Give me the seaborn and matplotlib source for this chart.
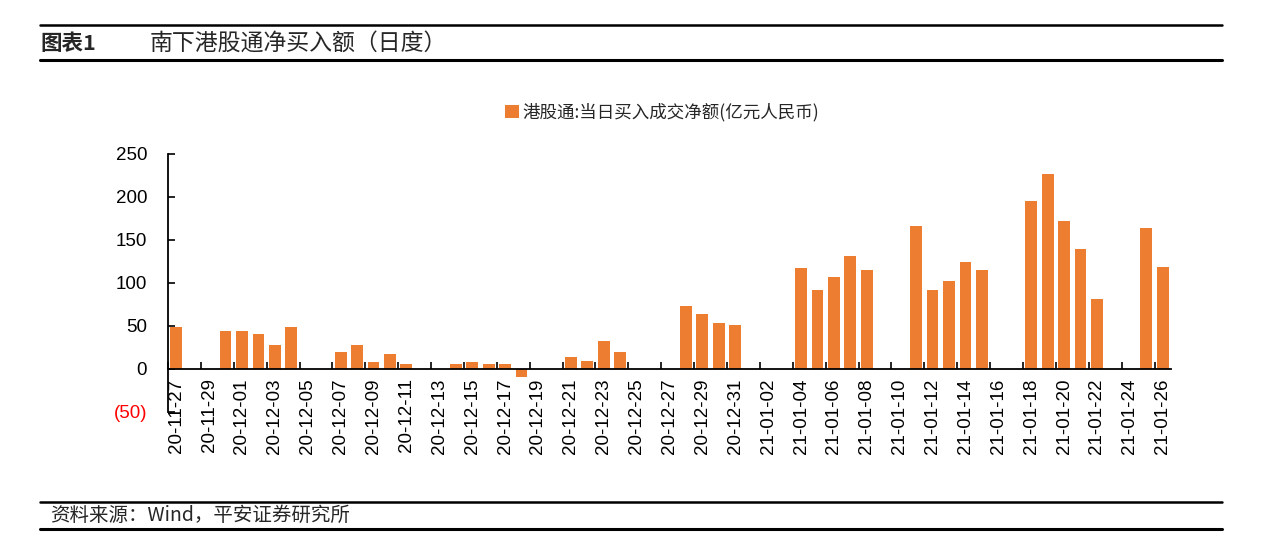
import matplotlib
matplotlib.use("Agg")
import matplotlib.pyplot as plt
import seaborn as sns
import pandas as pd
import numpy as np
from matplotlib.lines import Line2D
from matplotlib.patches import Patch

# ---- data (亿元人民币) ----
trade_dates = [
    "2020-11-27", "2020-11-30", "2020-12-01", "2020-12-02", "2020-12-03", "2020-12-04",
    "2020-12-07", "2020-12-08", "2020-12-09", "2020-12-10", "2020-12-11",
    "2020-12-14", "2020-12-15", "2020-12-16", "2020-12-17", "2020-12-18",
    "2020-12-21", "2020-12-22", "2020-12-23", "2020-12-24",
    "2020-12-28", "2020-12-29", "2020-12-30", "2020-12-31",
    "2021-01-04", "2021-01-05", "2021-01-06", "2021-01-07", "2021-01-08",
    "2021-01-11", "2021-01-12", "2021-01-13", "2021-01-14", "2021-01-15",
    "2021-01-18", "2021-01-19", "2021-01-20", "2021-01-21", "2021-01-22",
    "2021-01-25", "2021-01-26",
]
net_buy = [
    48.1, 44.3, 44.3, 40.4, 27.6, 48.1,
    19.4, 27.6, 7.4, 17.5, 5.0,
    5.0, 7.4, 5.0, 5.0, -10.0,
    13.2, 9.3, 31.8, 19.4,
    73.4, 63.3, 52.8, 50.5,
    116.9, 91.6, 106.4, 131.2, 114.5,
    166.1, 91.6, 102.1, 124.6, 114.5,
    194.9, 226.3, 172.4, 139.4, 81.5,
    164.2, 118.8,
]
start_date = "2020-11-27"
end_date = "2021-01-26"
series_name = "港股通:当日买入成交净额(亿元人民币)"
y_ticks = [-50, 0, 50, 100, 150, 200, 250]
y_labels = ["(50)", "0", "50", "100", "150", "200", "250"]

# ---- build calendar-day frame ----
all_days = pd.date_range(start_date, end_date, freq="D")
day_labels = [d.strftime("%y-%m-%d") for d in all_days]
df = pd.DataFrame({"date": pd.to_datetime(trade_dates), "value": net_buy})
df["label"] = df["date"].dt.strftime("%y-%m-%d")

sns.set_theme(style="white")
plt.rcParams["font.family"] = ["Liberation Sans", "Noto Sans CJK SC", "DejaVu Sans"]

bar_color = "#ED7D31"
fig = plt.figure(figsize=(12.67, 5.5), dpi=100)
ax = fig.add_axes([0.1326, 0.2516, 0.9242 - 0.1326, 0.72 - 0.2516])

sns.barplot(data=df, x="label", y="value", order=day_labels, color=bar_color,
            saturation=1, width=0.72, errorbar=None, linewidth=0, ax=ax)

ax.set_xlim(-0.5, len(day_labels) - 0.5)
ax.set_ylim(-50, 250)
ax.set_xlabel("")
ax.set_ylabel("")

# spines
for s in ["top", "right"]:
    ax.spines[s].set_visible(False)
ax.spines["bottom"].set_position(("data", 0))
for s in ["left", "bottom"]:
    ax.spines[s].set_color("black")
    ax.spines[s].set_linewidth(1.3)

# x ticks: labels every 2 days, tick marks between categories
pos = np.arange(0, len(day_labels), 2)
ax.set_xticks(pos)
ax.set_xticklabels([day_labels[i] for i in pos], rotation=90, fontsize=13.5,
                   family=["Liberation Sans"], va="top", ha="center")
ax.set_xticks(pos - 0.5, minor=True)
ax.tick_params(axis="x", which="major", length=0, pad=7, colors="black")
ax.tick_params(axis="x", which="minor", length=5, width=1.2, direction="in",
               color="black", bottom=True)

# y ticks
ax.set_yticks(y_ticks)
ax.set_yticklabels(y_labels, fontsize=13.5, family=["Liberation Sans"])
ax.tick_params(axis="y", length=5, width=1.2, direction="in", pad=15,
               color="black", left=True)
for t, v in zip(ax.get_yticklabels(), y_ticks):
    t.set_color("red" if v < 0 else "black")

# legend
handle = Patch(facecolor=bar_color, edgecolor="none", label=series_name)
fig.legend(handles=[handle], loc="center", bbox_to_anchor=(0.5225, 0.796),
           frameon=False, handlelength=0.8, handleheight=0.8, handletextpad=0.2,
           prop={"family": ["Noto Sans CJK SC"], "size": 12.6})

# header / footer decorations
x0, x1 = 40 / 1267, 1222 / 1267
fig.add_artist(Line2D([x0, x1], [1 - 25 / 550] * 2, color="black", lw=1.8))
fig.add_artist(Line2D([x0, x1], [1 - 60 / 550] * 2, color="black", lw=2.2))
fig.add_artist(Line2D([x0, x1], [1 - 502 / 550] * 2, color="black", lw=1.8))
fig.add_artist(Line2D([x0, x1], [1 - 529 / 550] * 2, color="black", lw=2.2))

fig.text(40 / 1267, 1 - 43 / 550, "图表1", fontsize=15.5, fontweight="bold",
         family=["Noto Sans CJK SC"], va="center", ha="left")
fig.text(150 / 1267, 1 - 43 / 550, "南下港股通净买入额（日度）", fontsize=16.5,
         family=["Noto Sans CJK SC"], fontweight="medium", va="center", ha="left")
fig.text(50 / 1267, 1 - 515 / 550, "资料来源：Wind，平安证券研究所", fontsize=14,
         family=["Noto Sans CJK SC", "DejaVu Sans"], style="italic",
         va="center", ha="left")

fig.savefig("out.png", dpi=100)
